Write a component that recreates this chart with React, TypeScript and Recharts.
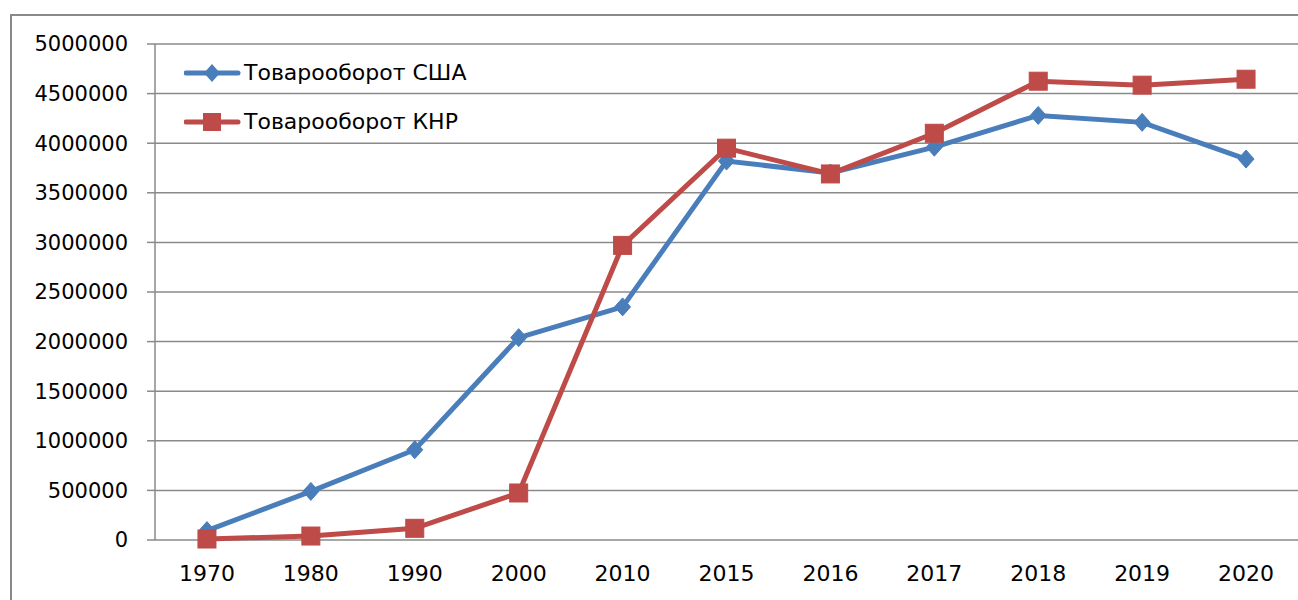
import React from "react";
import { LineChart, Line, XAxis, YAxis, CartesianGrid, Legend } from "recharts";

const years = ["1970", "1980", "1990", "2000", "2010", "2015", "2016", "2017", "2018", "2019", "2020"];
const usaTrade = [95000, 490000, 910000, 2040000, 2350000, 3820000, 3700000, 3960000, 4280000, 4210000, 3840000];
const chinaTrade = [10000, 40000, 118000, 474000, 2970000, 3950000, 3690000, 4100000, 4625000, 4585000, 4645000];
const yTicks = [0, 500000, 1000000, 1500000, 2000000, 2500000, 3000000, 3500000, 4000000, 4500000, 5000000];
const boundaryTicks = years.map((_, i) => i).concat([years.length]);
const centerTicks = years.map((_, i) => i + 0.5);

const seriesNames = { usa: "Товарооборот США", china: "Товарооборот КНР" };
const BLUE = "#4A7EBB";
const RED = "#BE4B48";
const FONT = "DejaVu Sans";
const FS = 22;

const data = years.map((y, i) => ({ x: i + 0.5, year: y, usa: usaTrade[i], china: chinaTrade[i] }));

const Diamond = (props: any) => {
  const { cx, cy } = props;
  if (cx == null || cy == null) return <g key={props.key} />;
  return (
    <path
      key={props.key}
      d={`M${cx},${cy - 9} L${cx + 8},${cy} L${cx},${cy + 9} L${cx - 8},${cy} Z`}
      fill={BLUE}
      stroke={BLUE}
      strokeWidth={1}
    />
  );
};

const Square = (props: any) => {
  const { cx, cy } = props;
  if (cx == null || cy == null) return <g key={props.key} />;
  return <rect key={props.key} x={cx - 9} y={cy - 9} width={18} height={18} fill={RED} stroke={RED} strokeWidth={1} />;
};

const LegendContent = () => {
  const items = [
    { name: seriesNames.usa, color: BLUE, kind: "diamond" },
    { name: seriesNames.china, color: RED, kind: "square" },
  ];
  return (
    <div style={{ fontFamily: FONT, fontSize: FS, color: "#000" }}>
      {items.map((it) => (
        <div key={it.name} style={{ display: "flex", alignItems: "center", height: 49 }}>
          <svg width={58} height={22} style={{ display: "block" }}>
            <line x1={2} y1={11} x2={54} y2={11} stroke={it.color} strokeWidth={5} strokeLinecap="round" />
            {it.kind === "diamond" ? (
              <path d="M28,2 L36,11 L28,20 L20,11 Z" fill={it.color} />
            ) : (
              <rect x={19} y={2} width={18} height={18} fill={it.color} />
            )}
          </svg>
          <span style={{ marginLeft: 2, whiteSpace: "nowrap" }}>{it.name}</span>
        </div>
      ))}
    </div>
  );
};

export default function App() {
  return (
    <div style={{ position: "absolute", left: 0, top: 0, width: 1298, height: 600, overflow: "hidden", background: "#fff" }}>
      <div
        style={{
          position: "absolute",
          left: 10,
          top: 14,
          width: 1320,
          height: 620,
          border: "2px solid #898989",
          boxSizing: "border-box",
        }}
      />
      <div style={{ position: "absolute", left: 0, top: 0 }}>
        <LineChart width={1298} height={600} data={data} margin={{ top: 44, right: 0, bottom: 0, left: 0 }}>
          <CartesianGrid vertical={false} stroke="#8a8a8a" strokeWidth={1.5} />
          <XAxis
            xAxisId="ticks"
            dataKey="x"
            type="number"
            domain={[0, years.length]}
            ticks={boundaryTicks}
            height={0}
            tickSize={8}
            tick={() => <g />}
            axisLine={{ stroke: "#8a8a8a", strokeWidth: 1.5 }}
            tickLine={{ stroke: "#8a8a8a", strokeWidth: 1.5 }}
            interval={0}
          />
          <XAxis
            xAxisId="labels"
            dataKey="x"
            type="number"
            domain={[0, years.length]}
            ticks={centerTicks}
            height={60}
            tickSize={0}
            tickMargin={25}
            axisLine={false}
            tickLine={false}
            interval={0}
            tickFormatter={(v: number) => years[Math.round(v - 0.5)] ?? ""}
            tick={{ fontFamily: FONT, fontSize: FS, fill: "#000" }}
          />
          <YAxis
            type="number"
            domain={[0, 5000000]}
            ticks={yTicks}
            width={155}
            tickSize={8}
            tickMargin={19}
            interval={0}
            axisLine={{ stroke: "#8a8a8a", strokeWidth: 1.5 }}
            tickLine={{ stroke: "#8a8a8a", strokeWidth: 1.5 }}
            tick={{ fontFamily: FONT, fontSize: 21, fill: "#000" }}
          />
          <Legend
            content={<LegendContent />}
            layout="vertical"
            verticalAlign="middle"
            align="center"
            wrapperStyle={{ position: "absolute", left: 184, top: 48, width: 340 }}
          />
          <Line
            xAxisId="ticks"
            type="linear"
            dataKey="usa"
            name={seriesNames.usa}
            stroke={BLUE}
            strokeWidth={5}
            dot={(p: any) => <Diamond {...p} />}
            activeDot={false}
            isAnimationActive={false}
          />
          <Line
            xAxisId="ticks"
            type="linear"
            dataKey="china"
            name={seriesNames.china}
            stroke={RED}
            strokeWidth={5}
            dot={(p: any) => <Square {...p} />}
            activeDot={false}
            isAnimationActive={false}
          />
        </LineChart>
      </div>
    </div>
  );
}
